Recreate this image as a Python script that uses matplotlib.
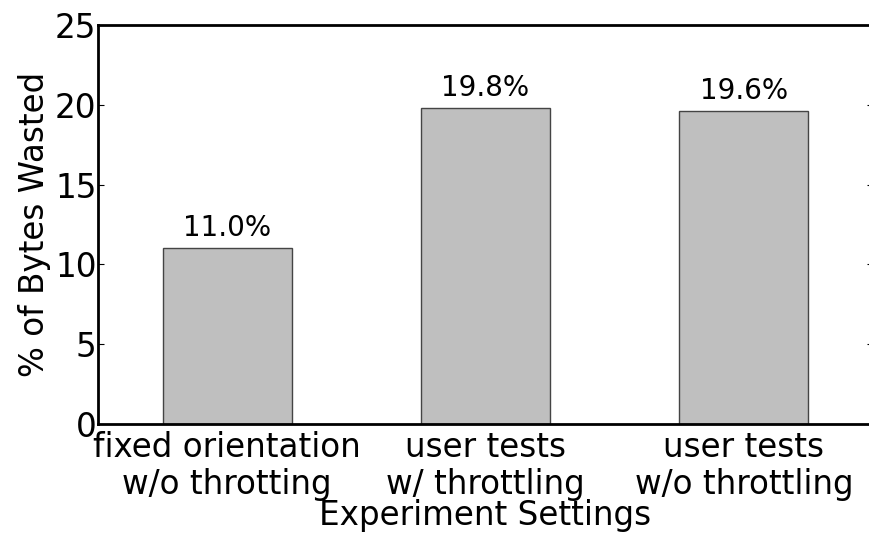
import matplotlib
matplotlib.use("Agg")
import matplotlib.pyplot as plt

categories = ["fixed orientation\nw/o throtting", "user tests\nw/ throttling", "user tests\nw/o throttling"]
values = [11.0, 19.8, 19.6]
labels = ["11.0%", "19.8%", "19.6%"]
yticks = [0, 5, 10, 15, 20, 25]

fig = plt.figure(figsize=(8.69, 5.34), dpi=100)
ax = fig.add_axes([98/869, 1-424/534, (873-98)/869, (424-25)/534])
x = list(range(len(categories)))
ax.bar(x, values, width=0.5, color="#bfbfbf", edgecolor="#444444", linewidth=1.0)
for xi, v, lab in zip(x, values, labels):
    ax.text(xi, v + 0.4, lab, ha="center", va="bottom", fontsize=20)
ax.set_xlim(-0.5, 2.5)
ax.set_ylim(0, 25)
ax.set_xticks(x)
ax.set_xticklabels(categories, fontsize=23.5, linespacing=1.15)
ax.set_yticks(yticks)
ax.set_yticklabels([str(t) for t in yticks], fontsize=23.5)
ax.tick_params(direction="in", length=4, width=0.8, top=False, right=True, pad=1)
ax.tick_params(axis="x", length=0, pad=5)
for s in ax.spines.values():
    s.set_linewidth(2)
ax.set_ylabel("% of Bytes Wasted", fontsize=23.5, labelpad=3)
ax.set_xlabel("Experiment Settings", fontsize=23.5, labelpad=-1)
fig.savefig("out.png", dpi=100)
